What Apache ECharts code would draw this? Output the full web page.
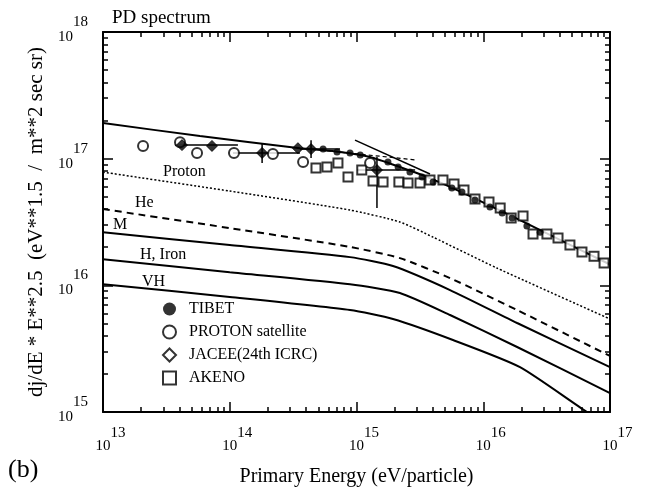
<!DOCTYPE html>
<html><head><meta charset="utf-8">
<script src="https://cdn.jsdelivr.net/npm/echarts@6/dist/echarts.min.js"></script>
<style>html,body{margin:0;padding:0;background:#fff}#c{width:656px;height:498px}</style>
</head><body><div id="c"></div>
<script>
// ---- tick values ----
const xTicks = [1e13, 1e14, 1e15, 1e16, 1e17];
const yTicks = [1e15, 1e16, 1e17, 1e18];
const xDecades = [13, 14, 15, 16];
const yDecades = [15, 16, 17];
const minorMantissas = [2, 3, 4, 5, 6, 7, 8, 9];

// ---- model curves (energy eV, flux) ----
const totalE  = [1e13, 5.82e13, 3.58e14, 7.41e14, 1.28e15, 2.20e15, 3.80e15, 7.85e15, 1.95e16, 1e17];
const totalF  = [1.91e17, 1.51e17, 1.21e17, 1.13e17, 1.03e17, 8.59e16, 7.03e16, 5.07e16, 3.27e16, 1.46e16];
const protonE = [1e13, 1e14, 8.89e14, 2.20e15, 4.02e15, 1.28e16, 1e17];
const protonF = [7.83e16, 5.55e16, 3.93e16, 3.16e16, 2.40e16, 1.37e16, 5.42e15];
const heE     = [1e13, 1e14, 8.89e14, 2.20e15, 5.47e15, 1.85e16, 1e17];
const heF     = [4.00e16, 2.83e16, 2.01e16, 1.64e16, 1.14e16, 6.38e15, 2.77e15];
const mE      = [1e13, 1e14, 8.89e14, 1.94e15, 5.47e15, 1.85e16, 1e17];
const mF      = [2.63e16, 2.08e16, 1.67e16, 1.42e16, 9.18e15, 5.04e15, 2.26e15];
const hE      = [1e13, 1e14, 8.89e14, 2.20e15, 5.47e15, 1.85e16, 1e17];
const hF      = [1.61e16, 1.27e16, 1.02e16, 8.70e15, 5.83e15, 3.26e15, 1.41e15];
const vhE     = [1e13, 1e14, 8.89e14, 1.94e15, 5.77e15, 1.95e16, 6.59e16, 1e17];
const vhF     = [1.02e16, 8.09e15, 6.38e15, 5.42e15, 3.70e15, 2.26e15, 1.00e15, 7.98e14];
const fitAE   = [5.15e14, 3.00e15];
const fitAF   = [1.17e17, 9.75e16];
const fitBE   = [9.73e14, 3.80e15];
const fitBF   = [1.40e17, 7.56e16];

// ---- measurements ----
const tibetE = [5.45e14, 7.02e14, 8.89e14, 1.07e15, 1.77e15, 2.13e15, 2.64e15, 3.29e15, 4.02e15, 5.66e15, 6.79e15, 8.61e15, 1.13e16, 1.41e16, 1.69e16, 2.21e16, 2.81e16];
const tibetF = [1.19e17, 1.13e17, 1.11e17, 1.07e17, 9.40e16, 8.59e16, 7.83e16, 7.16e16, 6.54e16, 5.86e16, 5.45e16, 4.71e16, 4.15e16, 3.72e16, 3.40e16, 2.94e16, 2.63e16];
const protonSatE = [2.07e13, 4.05e13, 5.52e13, 1.08e14, 2.19e14, 3.79e14, 1.28e15];
const protonSatF = [1.26e17, 1.35e17, 1.11e17, 1.11e17, 1.09e17, 9.40e16, 9.23e16];
const jaceeE = [4.20e13, 7.24e13, 1.80e14, 3.45e14, 4.38e14, 1.45e15];
const jaceeF = [1.28e17, 1.26e17, 1.11e17, 1.21e17, 1.19e17, 8.13e16];
const akenoE = [4.79e14, 5.85e14, 7.14e14, 8.57e14, 1.10e15, 1.35e15, 1.62e15, 2.16e15, 2.55e15, 3.17e15, 3.80e15, 4.81e15, 5.88e15, 7.05e15, 8.61e15, 1.11e16, 1.36e16, 1.66e16, 2.06e16, 2.47e16, 3.18e16, 3.89e16, 4.83e16, 6.01e16, 7.48e16, 8.98e16];
const akenoF = [8.43e16, 8.59e16, 9.23e16, 7.16e16, 8.13e16, 6.66e16, 6.54e16, 6.54e16, 6.42e16, 6.42e16, 6.78e16, 6.78e16, 6.30e16, 5.65e16, 4.80e16, 4.54e16, 4.07e16, 3.40e16, 3.52e16, 2.54e16, 2.54e16, 2.36e16, 2.08e16, 1.83e16, 1.70e16, 1.50e16];
// error bars: centre E, centre F, E low, E high, F low, F high
const errE   = [4.20e13, 1.80e14, 4.38e14, 1.45e15];
const errF   = [1.28e17, 1.11e17, 1.19e17, 8.13e16];
const errElo = [3.70e13, 1.06e14, 3.58e14, 1.01e15];
const errEhi = [1.16e14, 3.58e14, 7.41e14, 2.90e15];
const errFlo = [1.28e17, 9.23e16, 1.01e17, 4.07e16];
const errFhi = [1.28e17, 1.33e17, 1.40e17, 1.03e17];

const FONT = 'Liberation Serif';
const zip = (a, b) => a.map((v, i) => [v, b[i]]);
const minors = (decs) => { const out = []; decs.forEach(d => minorMantissas.forEach(m => out.push(m * Math.pow(10, d)))); return out; };
const xMinor = minors(xDecades);
const yMinor = minors(yDecades);
// nudge label positions a hair inside the extent so the end labels survive float rounding
const inside = (vals) => vals.map((v, i) => i === vals.length - 1 ? v * 0.99999 : (i === 0 ? v * 1.00001 : v));
const powFmt = v => '{b|10}{s|' + Math.round(Math.log10(v)) + '}';

function axisBase(pos, min, max, majorVals, minorVals, isMinor, extra) {
  return Object.assign({
    type: 'log', logBase: 10, min: min, max: max, position: pos,
    axisLine: { show: !isMinor, onZero: false, lineStyle: { color: '#000', width: 2 } },
    axisTick: { show: true, inside: true, length: isMinor ? 5 : 10, customValues: isMinor ? minorVals : inside(majorVals),
                lineStyle: { color: '#000', width: 1.5 } },
    axisLabel: { show: false },
    splitLine: { show: false }, minorTick: { show: false }, minorSplitLine: { show: false },
    silent: true
  }, extra || {});
}

const chart = echarts.init(document.getElementById('c'), null, { renderer: 'canvas' });
const lineS = (name, E, F, lt, w, smooth) => ({
  type: 'line', name: name, data: zip(E, F), symbol: 'none', smooth: smooth,
  lineStyle: { color: '#000', width: w, type: lt }, silent: true, z: 2
});

chart.setOption({
  animation: false,
  backgroundColor: '#fff',
  textStyle: { fontFamily: FONT },
  title: { text: 'PD spectrum', left: 112, top: 9, padding: 0,
           textStyle: { fontFamily: FONT, fontSize: 19, fontWeight: 'normal', color: '#000' } },
  grid: { left: 103, right: 46, top: 32, bottom: 86, containLabel: false, outerBoundsMode: 'none' },
  legend: {
    orient: 'vertical', left: 157, top: 296, itemWidth: 13, itemHeight: 13, itemGap: 7,
    selectedMode: false, textStyle: { fontFamily: FONT, fontSize: 16, color: '#000', padding: [0, 0, 0, 8] },
    data: [
      { name: 'TIBET', icon: 'circle' },
      { name: 'PROTON satellite', icon: 'circle' },
      { name: 'JACEE(24th ICRC)', icon: 'diamond', itemStyle: { color: '#fff', borderColor: '#000', borderWidth: 2 } },
      { name: 'AKENO', icon: 'rect' }
    ]
  },
  xAxis: [
    axisBase('bottom', 1e13, 1e17, xTicks, xMinor, false, {
      axisLabel: { show: true, customValues: inside(xTicks), margin: 14, formatter: powFmt,
        rich: { b: { fontFamily: FONT, fontSize: 15, color: '#000', padding: [13, 0, 0, 15] },
                s: { fontFamily: FONT, fontSize: 15, color: '#000', padding: [0, 0, 13, 0] } } },
      name: 'Primary Energy (eV/particle)', nameLocation: 'middle', nameGap: 55,
      nameTextStyle: { fontFamily: FONT, fontSize: 20, color: '#000' }
    }),
    axisBase('bottom', 1e13, 1e17, xTicks, xMinor, true),
    axisBase('top', 1e13, 1e17, xTicks, xMinor, false),
    axisBase('top', 1e13, 1e17, xTicks, xMinor, true)
  ],
  yAxis: [
    axisBase('left', 1e15, 1e18, yTicks, yMinor, false, {
      axisLabel: { show: true, customValues: inside(yTicks), margin: 15, formatter: powFmt,
        rich: { b: { fontFamily: FONT, fontSize: 15, color: '#000', padding: [15, 0, 5, 0] },
                s: { fontFamily: FONT, fontSize: 15, color: '#000', padding: [0, 0, 20, 0] } } },
      name: 'dj/dE * E**2.5  (eV**1.5  /  m**2 sec sr)', nameLocation: 'middle', nameGap: 55,
      nameTextStyle: { fontFamily: FONT, fontSize: 21, color: '#000' }
    }),
    axisBase('left', 1e15, 1e18, yTicks, yMinor, true),
    axisBase('right', 1e15, 1e18, yTicks, yMinor, false),
    axisBase('right', 1e15, 1e18, yTicks, yMinor, true)
  ],
  graphic: [
    { type: 'text', x: 163, y: 172, style: { text: 'Proton', font: '16px "Liberation Serif"', fill: '#000', verticalAlign: 'middle' } },
    { type: 'text', x: 135, y: 203, style: { text: 'He', font: '16px "Liberation Serif"', fill: '#000', verticalAlign: 'middle' } },
    { type: 'text', x: 113, y: 225, style: { text: 'M', font: '16px "Liberation Serif"', fill: '#000', verticalAlign: 'middle' } },
    { type: 'text', x: 140, y: 255, style: { text: 'H, Iron', font: '16px "Liberation Serif"', fill: '#000', verticalAlign: 'middle' } },
    { type: 'text', x: 142, y: 282, style: { text: 'VH', font: '16px "Liberation Serif"', fill: '#000', verticalAlign: 'middle' } },
    { type: 'text', x: 8, y: 470, style: { text: '(b)', font: '26px "Liberation Serif"', fill: '#000', verticalAlign: 'middle' } }
  ],
  series: [
    lineS('Total', totalE, totalF, 'solid', 2, 0.2),
    lineS('Proton', protonE, protonF, [2, 2], 1.5, 0.2),
    lineS('He', heE, heF, [7, 5], 2, 0.2),
    lineS('M', mE, mF, 'solid', 2, 0.2),
    lineS('H, Iron', hE, hF, 'solid', 2, 0.2),
    lineS('VH', vhE, vhF, 'solid', 2, 0.2),
    lineS('fitA', fitAE, fitAF, [4, 3], 1.2, false),
    lineS('fitB', fitBE, fitBF, 'solid', 1.5, false),
    {
      type: 'custom', name: 'errors', silent: true, z: 3,
      data: errE.map((e, i) => [e, errF[i], errElo[i], errEhi[i], errFlo[i], errFhi[i]]),
      encode: { x: 0, y: 1 },
      renderItem: function (params, api) {
        const c = api.coord([api.value(0), api.value(1)]);
        const xl = api.coord([api.value(2), api.value(1)]);
        const xh = api.coord([api.value(3), api.value(1)]);
        const yl = api.coord([api.value(0), api.value(4)]);
        const yh = api.coord([api.value(0), api.value(5)]);
        const st = { stroke: '#000', lineWidth: 1.5 };
        return { type: 'group', children: [
          { type: 'line', shape: { x1: xl[0], y1: c[1], x2: xh[0], y2: c[1] }, style: st },
          { type: 'line', shape: { x1: c[0], y1: yl[1], x2: c[0], y2: yh[1] }, style: st }
        ] };
      }
    },
    { type: 'scatter', name: 'AKENO', data: zip(akenoE, akenoF), symbol: 'rect', symbolSize: 9, z: 4,
      itemStyle: { color: '#fff', borderColor: '#000', borderWidth: 2 } },
    { type: 'scatter', name: 'PROTON satellite', data: zip(protonSatE, protonSatF), symbol: 'circle', symbolSize: 10, z: 4,
      itemStyle: { color: '#fff', borderColor: '#000', borderWidth: 2 } },
    { type: 'scatter', name: 'JACEE(24th ICRC)', data: zip(jaceeE, jaceeF), symbol: 'diamond', symbolSize: 11, z: 5,
      itemStyle: { color: '#000', borderColor: '#000', borderWidth: 1 } },
    { type: 'scatter', name: 'TIBET', data: zip(tibetE, tibetF), symbol: 'circle', symbolSize: 7, z: 5,
      itemStyle: { color: '#000' } }
  ]
});
</script></body></html>
